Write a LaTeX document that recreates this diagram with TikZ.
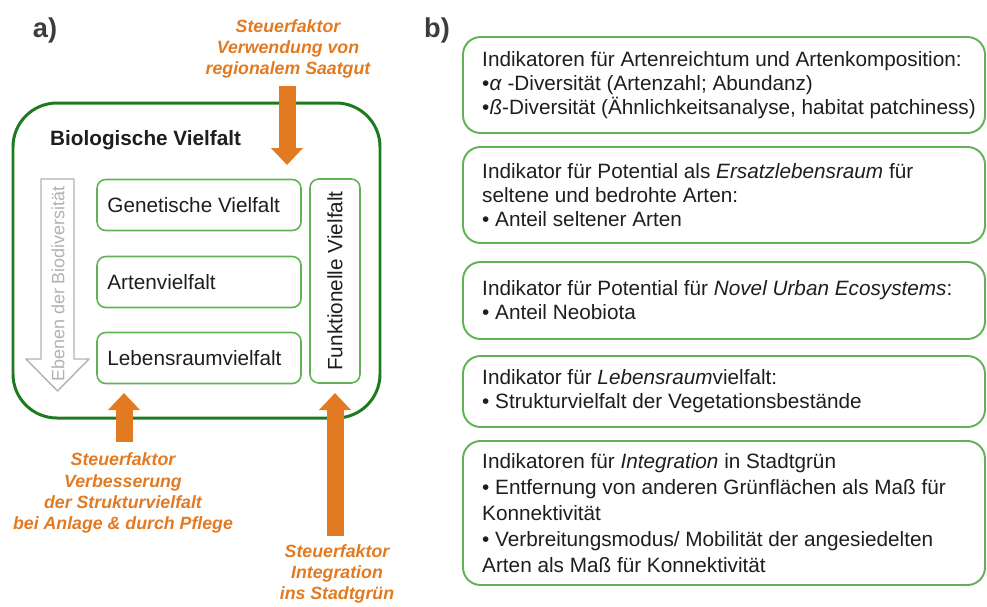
\documentclass[tikz,border=0pt]{standalone}
\usepackage{fontspec}
\setmainfont{Liberation Sans}
\usetikzlibrary{arrows.meta}

\definecolor{sforange}{RGB}{226,122,34}
\definecolor{bvgreen}{RGB}{30,122,30}
\definecolor{boxgreen}{RGB}{96,178,84}
\definecolor{ebenengrey}{RGB}{178,178,178}
\definecolor{labelgrey}{RGB}{60,60,60}
\definecolor{textblack}{RGB}{30,30,30}

\newcommand{\pxu}{0.02cm}

\tikzset{
  txt/.style={text=textblack, font=\fontsize{11.8}{13.6}\selectfont},
  bigbox/.style={draw=bvgreen, line width=1.7pt, rounded corners=25pt},
  ebox/.style={draw=boxgreen, line width=0.9pt, rounded corners=5pt,
    minimum width=204*\pxu, minimum height=51*\pxu},
  rbox/.style={draw=boxgreen, line width=1.1pt, rounded corners=10pt,
    minimum width=522*\pxu},
  steuer/.style={text=sforange, align=center, inner sep=2pt,
    font=\fontsize{10.1}{12}\selectfont\bfseries\itshape},
  steuerpfeil/.style={draw=sforange, line width=17*\pxu,
    -{Triangle[width=31*\pxu, length=17*\pxu]}},
  panel/.style={text=labelgrey, font=\fontsize{15.5}{18}\selectfont\bfseries}
}

\begin{document}
\begin{tikzpicture}[x=0.02cm, y=-0.02cm]
\useasboundingbox (0,0) rectangle (987,606);

% --- Teil a) ---
\node[panel] (pa) at (45,30) {a)};
\node[bigbox, minimum width=367*\pxu, minimum height=315*\pxu] (bv) at (196.5,260.5) {};
\node[txt, anchor=west, font=\fontsize{11.8}{13.6}\selectfont\bfseries] (bvtitel) at (44,140) {Biologische Vielfalt};

% Ebenen der Biodiversitaet
\foreach \name/\y/\txt in {gen/205/Genetische Vielfalt, art/282/Artenvielfalt, leb/358/Lebensraumvielfalt} {
    \node[ebox] (\name) at (199,\y) {};
    \node[txt, anchor=west] (\name t) at ([xshift=5*\pxu]\name.west) {\txt};
}
\node[draw=boxgreen, line width=0.9pt, rounded corners=5pt,
      minimum width=50*\pxu, minimum height=204*\pxu] (fkt) at (335,281) {};
\node[txt, rotate=90] (fktt) at (fkt.center) {Funktionelle Vielfalt};

% grauer Pfeil
\draw[draw=ebenengrey, fill=white, line width=0.8pt, line join=round]
    (41,179) -- (74,179) -- (74,359) -- (89,359) -- (57.5,391) -- (26,359) -- (41,359) -- cycle;
\node[rotate=90, text=ebenengrey, font=\fontsize{10.2}{12}\selectfont] (ebenen) at (58,284) {Ebenen der Biodiversität};

% Steuerfaktoren
\node[steuer] (sfoben) at (288,49) {Steuerfaktor\\Verwendung von\\regionalem Saatgut};
\node[steuer] (sflinks) at (123,493) {Steuerfaktor\\Verbesserung\\der Strukturvielfalt\\bei Anlage \& durch Pflege};
\node[steuer] (sfrechts) at (337,574) {Steuerfaktor\\Integration\\ins Stadtgrün};

\coordinate (spitzeoben) at (287,165);
\coordinate (spitzelinks) at (124,393);
\coordinate (spitzerechts) at (335,393);
\draw[steuerpfeil] (287,86) -- (spitzeoben);
\draw[steuerpfeil] (124,442) -- (spitzelinks);
\draw[steuerpfeil] (335,536) -- (spitzerechts);

% --- Teil b) ---
\node[panel] (pb) at (437,30) {b)};

\node[rbox, minimum height=96*\pxu] (r1) at (724,85) {};
\node[txt, anchor=west, align=left] (r1t) at ([xshift=14*\pxu]r1.west)
    {Indikatoren für Artenreichtum und Artenkomposition:\\
     •\textit{α} -Diversität (Artenzahl; Abundanz)\\
     •\textit{ß}-Diversität (Ähnlichkeitsanalyse, habitat patchiness)};

\node[rbox, minimum height=96*\pxu] (r2) at (724,195) {};
\node[txt, anchor=west, align=left] (r2t) at ([xshift=14*\pxu]r2.west)
    {Indikator für Potential als \textit{Ersatzlebensraum} für\\
     seltene und bedrohte Arten:\\
     • Anteil seltener Arten};

\node[rbox, minimum height=77*\pxu] (r3) at (724,300.5) {};
\node[txt, anchor=west, align=left] (r3t) at ([xshift=14*\pxu]r3.west)
    {Indikator für Potential für \textit{Novel Urban Ecosystems}:\\
     • Anteil Neobiota};

\node[rbox, minimum height=71*\pxu] (r4) at (724,391.5) {};
\node[txt, anchor=west, align=left] (r4t) at ([xshift=14*\pxu]r4.west)
    {Indikator für \textit{Lebensraum}vielfalt:\\
     • Strukturvielfalt der Vegetationsbestände};

\node[rbox, minimum height=144*\pxu] (r5) at (724,513) {};
\node[txt, anchor=west, align=left, font=\fontsize{11.8}{14.7}\selectfont] (r5t) at ([xshift=14*\pxu]r5.west)
    {Indikatoren für \textit{Integration} in Stadtgrün\\
     • Entfernung von anderen Grünflächen als Maß für\\
     Konnektivität\\
     • Verbreitungsmodus/ Mobilität der angesiedelten\\
     Arten als Maß für Konnektivität};

\end{tikzpicture}
\end{document}
